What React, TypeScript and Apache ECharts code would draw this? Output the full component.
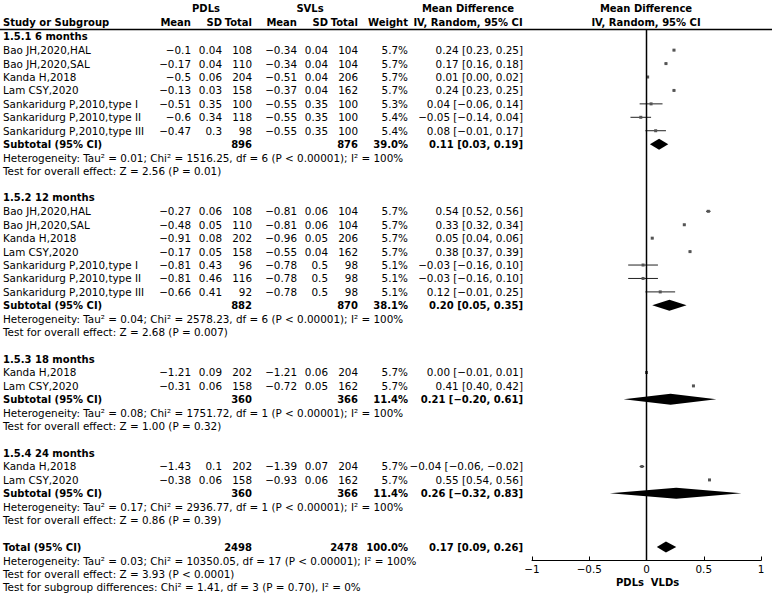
import React, { useEffect, useRef } from "react";
import * as echarts from "echarts";

// ---------- data ----------
const subgroupTitles = ["1.5.1 6 months", "1.5.2 12 months", "1.5.3 18 months", "1.5.4 24 months"];
const studyGroup = [0, 0, 0, 0, 0, 0, 0, 1, 1, 1, 1, 1, 1, 1, 2, 2, 3, 3];
const studyNames = [
  "Bao JH,2020,HAL", "Bao JH,2020,SAL", "Kanda H,2018", "Lam CSY,2020",
  "Sankaridurg P,2010,type I", "Sankaridurg P,2010,type II", "Sankaridurg P,2010,type III",
  "Bao JH,2020,HAL", "Bao JH,2020,SAL", "Kanda H,2018", "Lam CSY,2020",
  "Sankaridurg P,2010,type I", "Sankaridurg P,2010,type II", "Sankaridurg P,2010,type III",
  "Kanda H,2018", "Lam CSY,2020",
  "Kanda H,2018", "Lam CSY,2020",
];
const pdlMean = [-0.1, -0.17, -0.5, -0.13, -0.51, -0.6, -0.47, -0.27, -0.48, -0.91, -0.17, -0.81, -0.81, -0.66, -1.21, -0.31, -1.43, -0.38];
const pdlSd = [0.04, 0.04, 0.06, 0.03, 0.35, 0.34, 0.3, 0.06, 0.05, 0.08, 0.05, 0.43, 0.46, 0.41, 0.09, 0.06, 0.1, 0.06];
const pdlTotal = [108, 110, 204, 158, 100, 118, 98, 108, 110, 202, 158, 96, 116, 92, 202, 158, 202, 158];
const svlMean = [-0.34, -0.34, -0.51, -0.37, -0.55, -0.55, -0.55, -0.81, -0.81, -0.96, -0.55, -0.78, -0.78, -0.78, -1.21, -0.72, -1.39, -0.93];
const svlSd = [0.04, 0.04, 0.04, 0.04, 0.35, 0.35, 0.35, 0.06, 0.06, 0.05, 0.04, 0.5, 0.5, 0.5, 0.06, 0.05, 0.07, 0.06];
const svlTotal = [104, 104, 206, 162, 100, 100, 100, 104, 104, 206, 162, 98, 98, 98, 204, 162, 204, 162];
const studyWeight = [5.7, 5.7, 5.7, 5.7, 5.3, 5.4, 5.4, 5.7, 5.7, 5.7, 5.7, 5.1, 5.1, 5.1, 5.7, 5.7, 5.7, 5.7];
const mdEst = [0.24, 0.17, 0.01, 0.24, 0.04, -0.05, 0.08, 0.54, 0.33, 0.05, 0.38, -0.03, -0.03, 0.12, 0.0, 0.41, -0.04, 0.55];
const mdLow = [0.23, 0.16, 0.0, 0.23, -0.06, -0.14, -0.01, 0.52, 0.32, 0.04, 0.37, -0.16, -0.16, -0.01, -0.01, 0.4, -0.06, 0.54];
const mdHigh = [0.25, 0.18, 0.02, 0.25, 0.14, 0.04, 0.17, 0.56, 0.34, 0.06, 0.39, 0.1, 0.1, 0.25, 0.01, 0.42, -0.02, 0.56];

const subPdlTotal = [896, 882, 360, 360];
const subSvlTotal = [876, 870, 366, 366];
const subWeight = [39.0, 38.1, 11.4, 11.4];
const subEst = [0.11, 0.2, 0.21, 0.26];
const subLow = [0.03, 0.05, -0.2, -0.32];
const subHigh = [0.19, 0.35, 0.61, 0.83];
const subTau2 = ["0.01", "0.04", "0.08", "0.17"];
const subChi2 = ["1516.25", "2578.23", "1751.72", "2936.77"];
const subDf = [6, 6, 1, 1];
const subZ = ["2.56", "2.68", "1.00", "0.86"];
const subP = ["= 0.01", "= 0.007", "= 0.32", "= 0.39"];

const totalPdl = 2498;
const totalSvl = 2478;
const totalWeight = 100.0;
const totalEst = 0.17;
const totalLow = 0.09;
const totalHigh = 0.26;
const totalTau2 = "0.03";
const totalChi2 = "10350.05";
const totalDf = 17;
const totalZ = "3.93";
const totalP = "< 0.0001";
const subgroupDiffText = "Test for subgroup differences: Chi² = 1.41, df = 3 (P = 0.70), I² = 0%";

const axisTicks = [-1, -0.5, 0, 0.5, 1];

// ---------- helpers ----------
const neg = (s: string) => s.replace("-", "−");
const fNum = (v: number) => neg(String(v));
const f2 = (v: number) => neg(v.toFixed(2));
const ciText = (e: number, l: number, h: number) => `${f2(e)} [${f2(l)}, ${f2(h)}]`;

type Row = { line: number; kind: string; i?: number; text?: string };

const rows: Row[] = [];
let line = 0;
for (let g = 0; g < subgroupTitles.length; g++) {
  rows.push({ line: line++, kind: "title", text: subgroupTitles[g] });
  studyGroup.forEach((sg, i) => {
    if (sg === g) rows.push({ line: line++, kind: "study", i });
  });
  rows.push({ line: line++, kind: "sub", i: g });
  rows.push({
    line: line++, kind: "note",
    text: `Heterogeneity: Tau² = ${subTau2[g]}; Chi² = ${subChi2[g]}, df = ${subDf[g]} (P < 0.00001); I² = 100%`,
  });
  rows.push({ line: line++, kind: "note", text: `Test for overall effect: Z = ${subZ[g]} (P ${subP[g]})` });
  line++;
}
rows.push({ line: line++, kind: "total" });
rows.push({
  line: line++, kind: "note",
  text: `Heterogeneity: Tau² = ${totalTau2}; Chi² = ${totalChi2}, df = ${totalDf} (P < 0.00001); I² = 100%`,
});
rows.push({ line: line++, kind: "note", text: `Test for overall effect: Z = ${totalZ} (P ${totalP})` });
rows.push({ line: line++, kind: "note", text: subgroupDiffText });

const FONT = "DejaVu Sans";
const FS = 10.4;
const FSB = 10;
const COL = { name: 3, pm: 191, ps: 222, pn: 252, sm: 297, ss: 328, sn: 358, w: 408, md: 523 };

function txt(x: number, y: number, text: string, align: string, bold = false) {
  return {
    type: "text",
    x, y,
    style: {
      text, fill: "#000", fontFamily: FONT, fontSize: bold ? FSB : FS,
      fontWeight: bold ? "bold" : "normal", align, verticalAlign: "middle",
    },
  };
}

export default function App() {
  const ref = useRef<HTMLDivElement>(null);
  useEffect(() => {
    if (!ref.current) return;
    const chart = echarts.init(ref.current, undefined, { renderer: "svg" });

    const renderItem = (params: any, api: any) => {
      const r = rows[api.value(2)];
      const y = api.coord([0, r.line])[1];
      const px = (v: number) => api.coord([v, r.line])[0];
      const ch: any[] = [];
      if (r.kind === "title") {
        ch.push(txt(COL.name, y, r.text!, "left", true));
      } else if (r.kind === "note") {
        ch.push(txt(COL.name, y, r.text!, "left"));
      } else if (r.kind === "study") {
        const i = r.i!;
        ch.push(txt(COL.name, y, studyNames[i], "left"));
        ch.push(txt(COL.pm, y, fNum(pdlMean[i]), "right"));
        ch.push(txt(COL.ps, y, fNum(pdlSd[i]), "right"));
        ch.push(txt(COL.pn, y, String(pdlTotal[i]), "right"));
        ch.push(txt(COL.sm, y, fNum(svlMean[i]), "right"));
        ch.push(txt(COL.ss, y, fNum(svlSd[i]), "right"));
        ch.push(txt(COL.sn, y, String(svlTotal[i]), "right"));
        ch.push(txt(COL.w, y, studyWeight[i].toFixed(1) + "%", "right"));
        ch.push(txt(COL.md, y, ciText(mdEst[i], mdLow[i], mdHigh[i]), "right"));
        ch.push({
          type: "line",
          shape: { x1: px(mdLow[i]), y1: y, x2: px(mdHigh[i]), y2: y },
          style: { stroke: "#222", lineWidth: 1 },
        });
        const c = px(mdEst[i]);
        ch.push({
          type: "rect",
          shape: { x: c - 1.5, y: y - 1.5, width: 3, height: 3 },
          style: { fill: "#555" },
        });
      } else if (r.kind === "sub" || r.kind === "total") {
        const isSub = r.kind === "sub";
        const g = r.i!;
        const e = isSub ? subEst[g] : totalEst;
        const l = isSub ? subLow[g] : totalLow;
        const h = isSub ? subHigh[g] : totalHigh;
        ch.push(txt(COL.name, y, isSub ? "Subtotal (95% CI)" : "Total (95% CI)", "left", true));
        ch.push(txt(COL.pn, y, String(isSub ? subPdlTotal[g] : totalPdl), "right", true));
        ch.push(txt(COL.sn, y, String(isSub ? subSvlTotal[g] : totalSvl), "right", true));
        ch.push(txt(COL.w, y, (isSub ? subWeight[g] : totalWeight).toFixed(1) + "%", "right", true));
        ch.push(txt(COL.md, y, ciText(e, l, h), "right", true));
        ch.push({
          type: "polygon",
          shape: { points: [[px(l), y], [px(e), y - 5.5], [px(h), y], [px(e), y + 5.5]] },
          style: { fill: "#000" },
        });
      }
      return { type: "group", children: ch };
    };

    chart.setOption({
      animation: false,
      grid: { left: 532, right: 13, top: 30, bottom: 37.5 },
      xAxis: {
        type: "value", min: -1, max: 1, interval: 0.5, position: "bottom",
        axisLine: { show: true, onZero: false, lineStyle: { color: "#000", width: 1 } },
        axisTick: { show: true, inside: true, length: 4, lineStyle: { color: "#000" } },
        axisLabel: {
          color: "#000", fontFamily: FONT, fontSize: FS, margin: 3,
          formatter: (v: number) => (axisTicks.includes(v) ? fNum(v) : ""),
        },
        splitLine: { show: false },
      },
      yAxis: { type: "value", min: -0.5, max: 39, inverse: true, show: false },
      series: [
        {
          type: "line",
          data: [[0, -0.5], [0, 39]],
          symbol: "none",
          lineStyle: { color: "#000", width: 1.5 },
          silent: true,
        },
        {
          type: "custom",
          renderItem,
          clip: false,
          data: rows.map((r, i) => [0, r.line, i]),
          encode: { x: 0, y: 1 },
          silent: true,
        },
      ],
      graphic: [
        { type: "line", shape: { x1: 0, y1: 29.5, x2: 772, y2: 29.5 }, style: { stroke: "#000", lineWidth: 1.5 } },
        txt(206, 8, "PDLs", "center", true),
        txt(310, 8, "SVLs", "center", true),
        txt(468, 8, "Mean Difference", "center", true),
        txt(646, 8, "Mean Difference", "center", true),
        txt(COL.name, 22, "Study or Subgroup", "left", true),
        txt(COL.pm, 22, "Mean", "right", true),
        txt(COL.ps, 22, "SD", "right", true),
        txt(COL.pn, 22, "Total", "right", true),
        txt(COL.sm, 22, "Mean", "right", true),
        txt(COL.ss, 22, "SD", "right", true),
        txt(COL.sn, 22, "Total", "right", true),
        txt(COL.w, 22, "Weight", "right", true),
        txt(468, 22, "IV, Random, 95% CI", "center", true),
        txt(646, 22, "IV, Random, 95% CI", "center", true),
        txt(630, 582, "PDLs", "center", true),
        txt(665, 582, "VLDs", "center", true),
      ],
    });
    return () => chart.dispose();
  }, []);
  return <div ref={ref} style={{ position: "fixed", left: 0, top: 0, width: 774, height: 598, background: "#fff" }} />;
}
